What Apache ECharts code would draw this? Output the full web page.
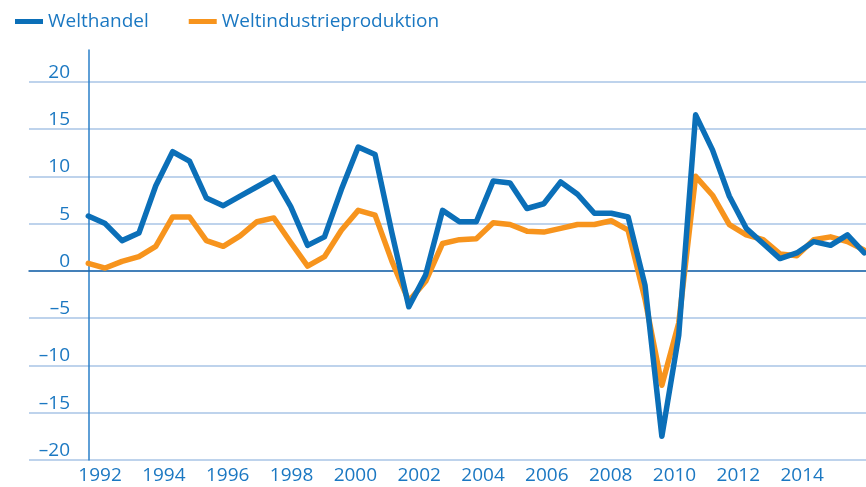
<!DOCTYPE html>
<html>
<head>
<meta charset="utf-8">
<script src="https://cdn.jsdelivr.net/npm/echarts@6/dist/echarts.min.js"></script>
<style>
  html, body { margin: 0; padding: 0; background: #fff; }
</style>
</head>
<body>
<div id="chart" style="width: 866px; height: 487px;"></div>
<script>
// Halbjahreswerte, Veränderung gegenüber Vorjahr in %
const welthandel = [
    5.8, 5.0, 3.2, 4.0, 9.0, 12.6, 11.6, 7.7, 6.9, 7.9,
    8.9, 9.9, 6.8, 2.7, 3.6, 8.6, 13.1, 12.3, 4.0, -3.8,
    -0.4, 6.4, 5.2, 5.2, 9.5, 9.3, 6.6, 7.1, 9.4, 8.1,
    6.1, 6.1, 5.7, -1.5, -17.5, -6.8, 16.5, 12.8, 7.9, 4.5,
    2.9, 1.3, 1.9, 3.1, 2.7, 3.8, 1.9
];
const weltindustrie = [
    0.8, 0.3, 1.0, 1.5, 2.6, 5.7, 5.7, 3.2, 2.6, 3.7,
    5.2, 5.6, 3.0, 0.5, 1.5, 4.3, 6.4, 5.9, 1.0, -3.2,
    -1.1, 2.9, 3.3, 3.4, 5.1, 4.9, 4.2, 4.1, 4.5, 4.9,
    4.9, 5.3, 4.3, -3.0, -12.1, -5.5, 10.0, 8.0, 4.9, 3.8,
    3.3, 1.8, 1.6, 3.3, 3.6, 3.1, 2.2
];
const seriesNames = ['Welthandel', 'Weltindustrieproduktion'];
const yearFirst = 1990;
const yearLast = 2016;
const yearStep = 2;

const textBlue = '#1b78c2';
const font = 'Open Sans';

function toPoints(arr) {
    return arr.map(function (v, i) { return [i, v]; });
}

const myChart = echarts.init(document.getElementById('chart'));

const option = {
    animation: false,
    legend: {
        data: seriesNames,
        left: 10,
        top: 7,
        icon: 'rect',
        itemWidth: 28,
        itemHeight: 5,
        itemGap: 40,
        textStyle: {
            color: textBlue,
            fontFamily: font,
            fontSize: 19
        }
    },
    grid: [
        { left: 29, right: 0, top: 50, bottom: 27 },
        { left: 36.2, right: -12.3, top: 50, bottom: 27 }
    ],
    xAxis: [
        {
            // Datenachse (Halbjahre), nur die Nulllinie sichtbar
            gridIndex: 0,
            type: 'value',
            min: -3.515,
            max: 46.1,
            axisLine: { show: true, onZero: true, lineStyle: { color: '#1c65a8', width: 1.5 } },
            axisTick: { show: false },
            axisLabel: { show: false },
            splitLine: { show: false }
        },
        {
            // Jahresbeschriftung
            gridIndex: 1,
            type: 'value',
            min: yearFirst,
            max: yearLast,
            interval: yearStep,
            axisLine: { show: false },
            axisTick: { show: false },
            splitLine: { show: false },
            axisLabel: {
                showMinLabel: false,
                showMaxLabel: false,
                color: textBlue,
                fontFamily: font,
                fontSize: 19,
                margin: 6,
                formatter: function (v) { return String(v); }
            }
        }
    ],
    yAxis: [
        {
            gridIndex: 0,
            type: 'value',
            min: -20,
            max: 23.36,
            interval: 5,
            offset: -51,
            axisLine: { show: true, lineStyle: { color: '#2a7fc9', width: 1.5 } },
            axisTick: { show: false },
            axisLabel: {
                showMaxLabel: false,
                color: textBlue,
                fontFamily: font,
                fontSize: 19,
                margin: 10,
                verticalAlign: 'bottom',
                formatter: function (v) { return String(v).replace('-', '–'); }
            },
            splitLine: {
                showMaxLine: false,
                lineStyle: { color: '#a9c4e6', width: 1.5 }
            }
        },
        { gridIndex: 1, type: 'value', show: false, min: -20, max: 23.36 }
    ],
    series: [
        {
            name: seriesNames[1],
            type: 'line',
            xAxisIndex: 0,
            yAxisIndex: 0,
            symbol: 'none',
            color: '#f7941d',
            lineStyle: { width: 5.5, join: 'round', cap: 'round' },
            data: toPoints(weltindustrie),
            z: 3
        },
        {
            name: seriesNames[0],
            type: 'line',
            xAxisIndex: 0,
            yAxisIndex: 0,
            symbol: 'none',
            color: '#0b6fb8',
            lineStyle: { width: 5.5, join: 'round', cap: 'round' },
            data: toPoints(welthandel),
            z: 4
        }
    ]
};

myChart.setOption(option);

window.onresize = function () {
    myChart.resize();
};
</script>
</body>
</html>
